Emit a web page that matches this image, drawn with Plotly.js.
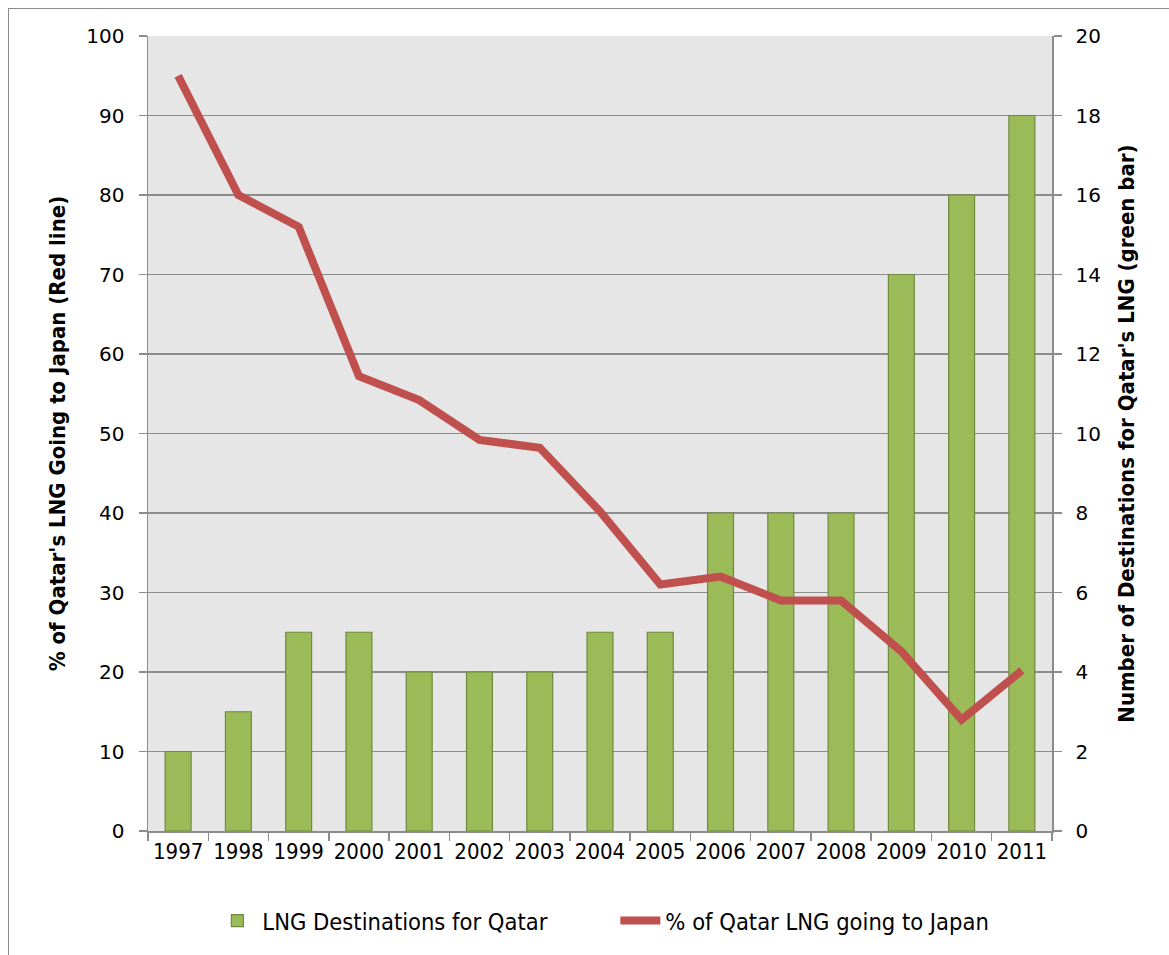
<!DOCTYPE html>
<html><head><meta charset="utf-8">
<script src="https://cdn.plot.ly/plotly-3.0.1.min.js"></script>
<style>
html,body{margin:0;padding:0;background:#fff;}
#frame{position:absolute;left:8px;top:8px;width:1161px;height:947px;border-left:1.5px solid #8c8c8c;border-top:1.5px solid #8c8c8c;box-sizing:border-box;}
#chart{position:absolute;left:0;top:0;width:1169px;height:955px;}
</style></head>
<body>
<div id="frame"></div>
<div id="chart"></div>
<script>
const years = ['1997','1998','1999','2000','2001','2002','2003','2004','2005','2006','2007','2008','2009','2010','2011'];
const destinations = [2,3,5,5,4,4,4,5,5,8,8,8,14,16,18];
const pctJapan = [95,80,76,57.2,54.2,49.2,48.2,40.2,31,32,29,29,22.6,14,20.2];
const leftTicks = [0,10,20,30,40,50,60,70,80,90,100];
const rightTicks = [0,2,4,6,8,10,12,14,16,18,20];

const condensed = '"DejaVu Sans Condensed", "Liberation Sans Narrow", "Roboto Condensed", "DejaVu Sans", sans-serif';
const wide = '"DejaVu Sans", Verdana, sans-serif';

const traces = [
  {type:'bar', x:years, y:destinations, yaxis:'y', name:'LNG Destinations for Qatar',
   width:0.43, marker:{color:'#9BBB59', line:{color:'#71893F', width:1.2}}},
  {type:'scatter', mode:'lines', x:years, y:pctJapan, yaxis:'y2', name:'% of Qatar LNG going to Japan',
   line:{color:'#C0504D', width:8}}
];

const layout = {
  width:1169, height:955,
  margin:{l:148, r:117, t:36, b:124},
  paper_bgcolor:'rgba(0,0,0,0)', plot_bgcolor:'#E6E6E6',
  showlegend:true,
  legend:{orientation:'h', x:0.517, xanchor:'center', y:-0.113, yanchor:'middle',
          font:{family:condensed, size:23.5, color:'#000'}, itemwidth:40, traceorder:'normal',
          entrywidth:348},
  bargap:0.5,
  xaxis:{type:'category', tickson:'boundaries', ticks:'outside', ticklen:8, tickcolor:'#8c8c8c', tickwidth:1.5,
         showline:true, linecolor:'#8c8c8c', linewidth:1.5, showgrid:false,
         tickfont:{family:condensed, size:22, color:'#000'}},
  yaxis:{side:'right', range:[0,20], tickvals:rightTicks, ticks:'outside', ticklen:8, tickcolor:'#8c8c8c', tickwidth:1.5,
         showline:true, linecolor:'#8c8c8c', linewidth:1.5, showgrid:true, gridcolor:'#8c8c8c', gridwidth:1.5,
         zeroline:false, tickfont:{family:wide, size:20, color:'#000'}, ticklabelstandoff:10,
         title:{text:"Number of Destinations for Qatar's LNG (green bar)", font:{family:condensed, size:22, color:'#000', weight:'bold'}, standoff:18}},
  yaxis2:{overlaying:'y', side:'left', range:[0,100], tickvals:leftTicks, ticks:'outside', ticklen:8, tickcolor:'#8c8c8c', tickwidth:1.5,
          showline:true, linecolor:'#8c8c8c', linewidth:1.5, showgrid:false, zeroline:false,
          tickfont:{family:wide, size:20, color:'#000'}, ticklabelstandoff:10,
          title:{text:"% of Qatar's LNG Going to Japan (Red line)", font:{family:condensed, size:22, color:'#000', weight:'bold'}, standoff:14}}
};

Plotly.newPlot('chart', traces, layout, {displayModeBar:false, staticPlot:true});
</script>
</body></html>
